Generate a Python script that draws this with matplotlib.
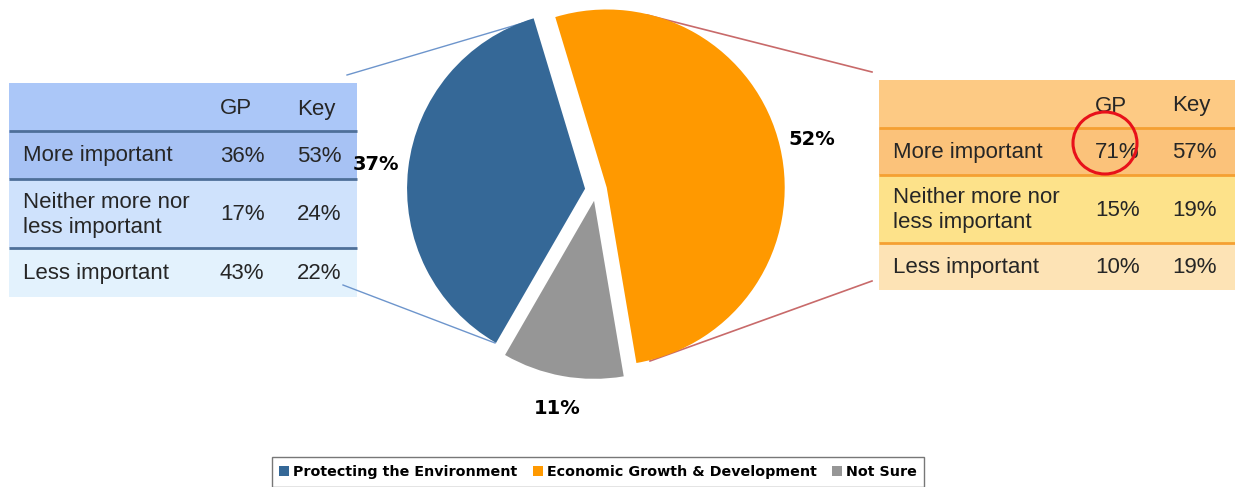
import matplotlib.pyplot as plt
from matplotlib.patches import Rectangle, Ellipse

# pie data
categories = ['Protecting the Environment', 'Economic Growth & Development', 'Not Sure']
shares = [37, 52, 11]
colors = ['#356897', '#ff9900', '#969696']

# breakdown tables
row_labels = ['More important', 'Neither more nor\nless important', 'Less important']
col_labels = ['GP', 'Key']
env_gp = ['36%', '17%', '43%']
env_key = ['53%', '24%', '22%']
econ_gp = ['71%', '15%', '10%']
econ_key = ['57%', '19%', '19%']

W, H = 1235, 487
fig = plt.figure(figsize=(W / 100, H / 100), dpi=100)

# background axes in pixel coordinates (y downward)
bg = fig.add_axes([0, 0, 1, 1], zorder=0)
bg.set_xlim(0, W)
bg.set_ylim(H, 0)
bg.axis('off')

txt = dict(fontsize=16, color='#262626', family='Liberation Sans', va='center')


def draw_table(x0, x1, ys, fills, line_col, xl, xgp, xkey, gp, key):
    for i in range(4):
        bg.add_patch(Rectangle((x0, ys[i]), x1 - x0, ys[i + 1] - ys[i],
                               facecolor=fills[i], edgecolor='none', zorder=1))
    for y in ys[1:4]:
        bg.plot([x0, x1], [y, y], color=line_col, lw=2, zorder=2,
                solid_capstyle='butt')
    hy = (ys[0] + ys[1]) / 2 + 2
    bg.text(xgp, hy, col_labels[0], **txt)
    bg.text(xkey, hy, col_labels[1], **txt)
    for i in range(3):
        cy = (ys[i + 1] + ys[i + 2]) / 2 + 1
        bg.text(xl, cy, row_labels[i], linespacing=1.25, **txt)
        bg.text(xgp, cy, gp[i], **txt)
        bg.text(xkey, cy, key[i], **txt)


draw_table(9, 357, [83, 131, 179, 248, 297],
           ['#abc7f8', '#a7c2f4', '#cfe2fc', '#e3f2fd'], '#4e6f99',
           23, 220, 297, env_gp, env_key)
draw_table(879, 1235, [80, 128, 175, 243, 290],
           ['#fdca84', '#fbc27a', '#fde28a', '#fde3b5'], '#f5a032',
           893, 1095, 1172, econ_gp, econ_key)

# highlight circle on 71%
bg.add_patch(Ellipse((1105, 143), 64, 62, facecolor='none',
                     edgecolor='#e8111a', lw=2.2, zorder=3))

# connector lines
bg.plot([347, 533], [75, 20], color='#6d95cc', lw=1, zorder=3)
bg.plot([343, 495], [285, 343], color='#6d95cc', lw=1, zorder=3)
bg.plot([647, 872], [15, 72], color='#c86a6a', lw=1.2, zorder=3)
bg.plot([650, 872], [361, 281], color='#c86a6a', lw=1.2, zorder=3)

# pie axes: centre (596,190) px, radius 178 px
cx, cy, r, s = 596, 190, 178, 230
pax = fig.add_axes([(cx - s) / W, (H - cy - s) / H, 2 * s / W, 2 * s / H], zorder=1)
wedges, _, autotexts = pax.pie(
    shares, colors=colors, startangle=240, counterclock=False,
    explode=[11 / r] * 3, autopct=lambda p: f'{p:.0f}%', pctdistance=1.185,
    wedgeprops=dict(linewidth=0),
    textprops=dict(fontsize=14, fontweight='bold', color='black'))
pax.set_xlim(-s / r, s / r)
pax.set_ylim(-s / r, s / r)
pax.patch.set_alpha(0)
pax.axis('off')

leg = fig.legend(wedges, categories, loc='center', ncol=3,
                 bbox_to_anchor=(598 / W, 1 - 472 / H),
                 prop=dict(family='DejaVu Sans', weight='bold', size=10.3),
                 frameon=True, fancybox=False, edgecolor='#555555',
                 handlelength=0.7, handleheight=0.7, handletextpad=0.25,
                 columnspacing=1.1, borderpad=0.55, borderaxespad=0)
leg.get_frame().set_linewidth(1)

fig.savefig('out.png', dpi=100)
